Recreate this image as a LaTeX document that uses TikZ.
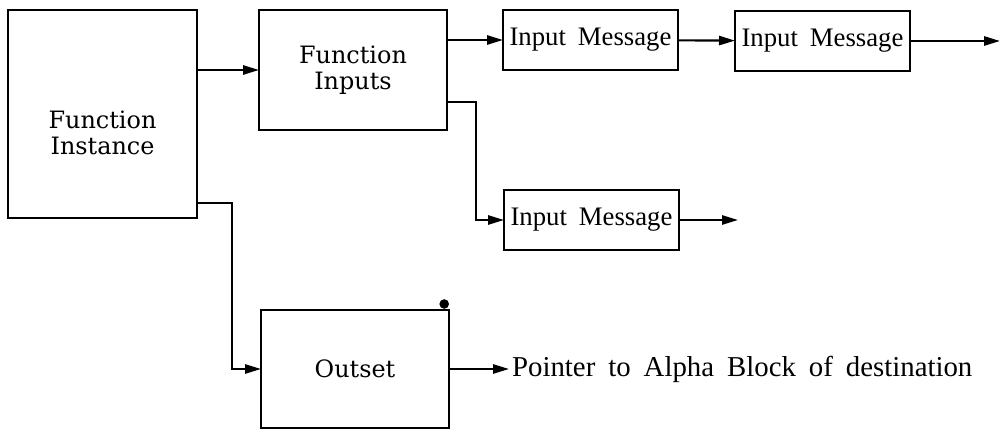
\documentclass[tikz,border=0pt]{standalone}
\usepackage{fontspec}
\setmainfont[WordSpace=1.8]{Liberation Serif}
\newfontfamily\souv{DejaVu Serif}
\usepackage{tikz}
\usetikzlibrary{arrows.meta,positioning}
\tikzset{
  blk/.style={draw,line width=2pt,inner sep=0pt,outer sep=0pt,minimum width=4.7cm},
  msg/.style={draw,line width=2pt,inner sep=0pt,outer sep=0pt,minimum width=4.375cm,minimum height=1.5cm,font=\fontsize{19}{24}\selectfont},
  stxt/.style={align=center,font=\souv\fontsize{17}{18.5}\selectfont},
  arr/.style={-{Triangle[length=4mm,width=2.3mm]},line width=1.5pt}}

\begin{document}
\begin{tikzpicture}
\useasboundingbox (0,0) rectangle (25.05,-10.75);
\node[blk,anchor=north west,minimum width=4.725cm,minimum height=5.2cm] (inst) at (0.2,-0.25) {};
\node[stxt] (instlbl) at ([yshift=-0.47cm]inst.center) {Function\\Instance};
\node[blk,minimum height=3cm,right=1.55cm of inst.north east,anchor=north west,stxt] (fin) {Function\\Inputs};
\node[msg,right=1.4cm of fin.north east,anchor=north west] (m1) {Input Message};
\node[msg,right=1.425cm of m1.north east,anchor=north west,yshift=-0.025cm] (m2) {Input Message};
\node[msg,below=3cm of m1.south west,anchor=north west,xshift=0.025cm] (m3) {Input Message};
\node[blk,minimum height=2.95cm,below=4.5cm of fin.south west,anchor=north west,xshift=0.05cm,stxt] (out) {Outset};
\node[right=1.5cm of out,inner sep=2pt,font=\fontsize{20.5}{24}\selectfont] (ptr) {Pointer to Alpha Block of destination};
\coordinate[right=2.25cm of m2] (m2end);
\coordinate[right=1.475cm of m3] (m3end);
% connectors
\draw[arr] (inst.east |- fin.west) -- (fin.west);
\draw[arr] (fin.east |- m1.west) -- (m1.west);
\draw[arr] (m1) -- (m2);
\draw[arr] (m2) -- (m2end);
\draw[arr] ([yshift=-0.8cm]fin.east) -- ++(0.725,0) |- (m3.west);
\draw[arr] (m3) -- (m3end);
\draw[arr] ([yshift=-2.225cm]inst.east) -- ++(0.875,0) |- (out.west);
\draw[arr] (out) -- (ptr);
\fill ([xshift=-0.12cm,yshift=0.15cm]out.north east) circle (0.12cm);
\end{tikzpicture}
\end{document}
